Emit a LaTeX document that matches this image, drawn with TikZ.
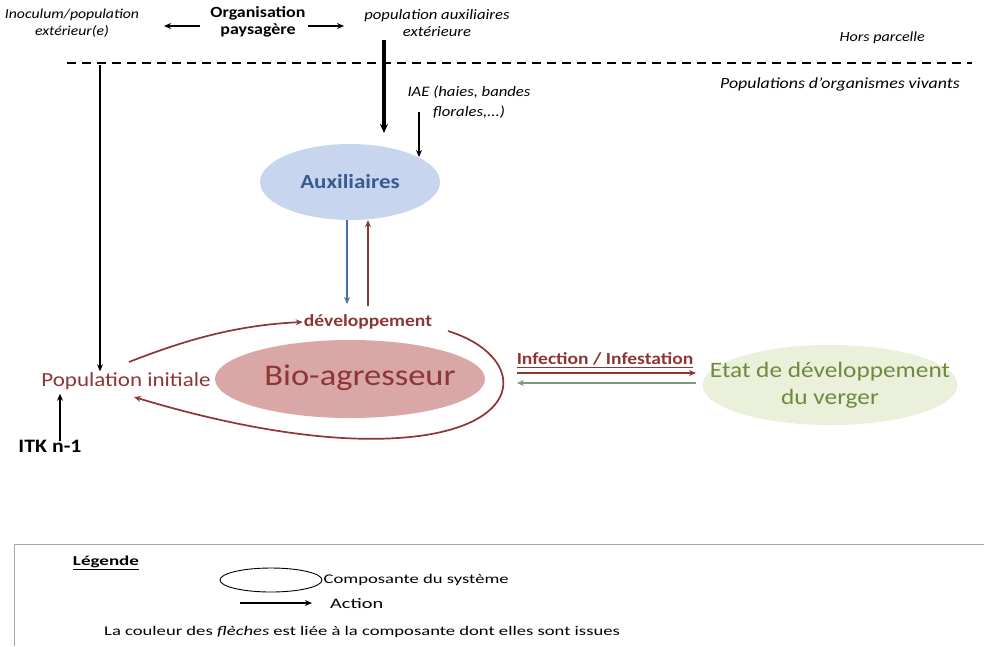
\documentclass[tikz,border=0pt]{standalone}
\usepackage{fontspec}
\setmainfont{Carlito}[FakeStretch=1.15]
\usetikzlibrary{arrows.meta,shapes.geometric}
\definecolor{dred}{HTML}{8E3535}
\definecolor{bioF}{HTML}{D9A7A6}
\definecolor{auxF}{HTML}{C7D6EE}
\definecolor{auxT}{HTML}{3A5A8E}
\definecolor{verF}{HTML}{EAF0DA}
\definecolor{verT}{HTML}{6E8A3E}
\definecolor{blueA}{HTML}{4A6FA8}
\definecolor{greenA}{HTML}{7A9A7A}
\begin{document}
\begin{tikzpicture}[x=1pt,y=-1pt,
  ital/.style={font=\itshape, align=center, inner sep=0pt},
  arr/.style={-{Stealth[length=7pt,width=6pt]}, line width=1.1pt},
  comp/.style={ellipse, inner sep=0pt}]
\useasboundingbox (0,0) rectangle (984,646);

% top labels
\node[ital, font=\fontsize{13.7}{17}\selectfont\itshape] (inoc) at (72,23) {Inoculum/population\\extérieur(e)};
\node[align=center, inner sep=0pt, font=\fontsize{15.6}{17.5}\selectfont\bfseries] (org) at (258,22) {Organisation\\paysagère};
\node[ital, font=\fontsize{14.5}{17}\selectfont\itshape] (popaux) at (437,23) {population auxiliaires\\extérieure};
\node[ital, anchor=east, font=\fontsize{14}{17}\selectfont\itshape] (hors) at (925,38) {Hors parcelle};
\node[ital, anchor=east, font=\fontsize{15.5}{18}\selectfont\itshape] (popviv) at (960,84) {Populations d'organismes vivants};
\node[ital, font=\fontsize{14.5}{20}\selectfont\itshape] (iae) at (469,102) {IAE (haies, bandes\\florales,...)};

\coordinate (orgL) at (200,26);
\coordinate (inocR) at (164,26);
\coordinate (orgR) at (308,26);
\coordinate (popL) at (344,26);
\draw[arr] (orgL) -- (inocR);
\draw[arr] (orgR) -- (popL);

% dashed boundary
\draw[line width=1.3pt, dash pattern=on 9pt off 6pt] (67,63) -- (972,63);

% components (shapes and their texts)
\node[comp, fill=auxF, minimum width=180pt, minimum height=76pt] (aux) at (350,182) {};
\node[font=\fontsize{20}{24}\selectfont\bfseries, text=auxT] (auxT) at (aux.center) {Auxiliaires};
\node[comp, fill=bioF, minimum width=270pt, minimum height=78pt] (bio) at (350,379) {};
\node[font=\fontsize{30}{34}\selectfont, text=dred] (bioT) at (360,378) {Bio-agresseur};
\node[comp, fill=verF, minimum width=255pt, minimum height=80pt] (verger) at (830,385) {};
\node[font=\fontsize{22}{27}\selectfont, text=verT, align=center] (vergerT) at (verger.center) {Etat de développement\\du verger};

\node[font=\fontsize{20}{24}\selectfont, text=dred, inner sep=1pt] (popinit) at (126,381) {Population initiale};
\node[font=\fontsize{17}{20}\selectfont\bfseries, text=dred, inner sep=1pt] (dev) at (368,322) {développement};
\node[font=\fontsize{19}{22}\selectfont\bfseries, inner sep=1pt] (itk) at (50,446) {ITK n-1};
\node[font=\fontsize{17}{20}\selectfont\bfseries, text=dred, inner sep=1pt] (infect) at (605,360) {\underline{Infection / Infestation}};

% arrows into auxiliaires
\coordinate (thickS) at (384,40);
\coordinate (thickE) at (384,133);
\draw[-{Stealth[length=9pt,width=8pt]}, line width=3.2pt] (thickS) -- (thickE);
\coordinate (iaeS) at (419,112);
\coordinate (iaeE) at (419,157);
\draw[arr] (iaeS) -- (iaeE);

% auxiliaires <-> developpement
\draw[arr, blueA, line width=1.3pt] (aux.south -| 347,0) -- (347,304);
\draw[arr, dred, line width=2.4pt] (368,306) -- (aux.south -| 368,0);

% inoculum down to population initiale
\coordinate (inocDown) at (100,65);
\draw[arr] (inocDown) -- (popinit.north -| 100,0);
% ITK
\draw[arr] ([yshift=-2pt]itk.north -| 60,0) -- ([yshift=-3pt]popinit.south -| 60,0);

% population initiale -> developpement
\draw[arr, dred, line width=1.7pt] (129,362) .. controls (190,338) and (240,325) .. (dev.west);
% loop back
\coordinate (loopS) at (448,331);
\draw[arr, dred, line width=1.7pt] (loopS) .. controls (525,355) and (530,425) .. (410,437)
  .. controls (320,446) and (210,420) .. (134,397);

% infection arrows
\draw[arr, dred, line width=2.6pt] (517,373) -- (696,373);
\draw[arr, greenA, line width=2.6pt] (696,383) -- (517,383);

% legend
\draw[gray!70, line width=1pt] (984,544) -- (14,544) -- (14,646);
\begin{scope}[every node/.append style={font=\fontsize{13.3}{15}\selectfont\addfontfeature{FakeStretch=1.4}}]
\node[font=\fontsize{13.6}{15}\selectfont\bfseries\addfontfeature{FakeStretch=1.4}] (leg) at (106,563) {\underline{Légende}};
\node[draw, ellipse, line width=0.9pt, minimum width=102pt, minimum height=24pt, inner sep=0pt] (legell) at (271,580) {};
\node[anchor=west, inner sep=1pt] (legcomp) at (legell.east) {Composante du système};
\coordinate (legA1) at (240,603);
\coordinate (legA2) at (312,603);
\draw[arr] (legA1) -- (legA2);
\node[anchor=west, inner sep=1pt, font=\fontsize{14.5}{16}\selectfont\addfontfeature{FakeStretch=1.4}] (legact) at (329,604) {Action};
\node[anchor=west, inner sep=0pt] (legcol) at (104,632) {La couleur des \textit{flèches} est liée à la composante dont elles sont issues};
\end{scope}
\end{tikzpicture}
\end{document}
